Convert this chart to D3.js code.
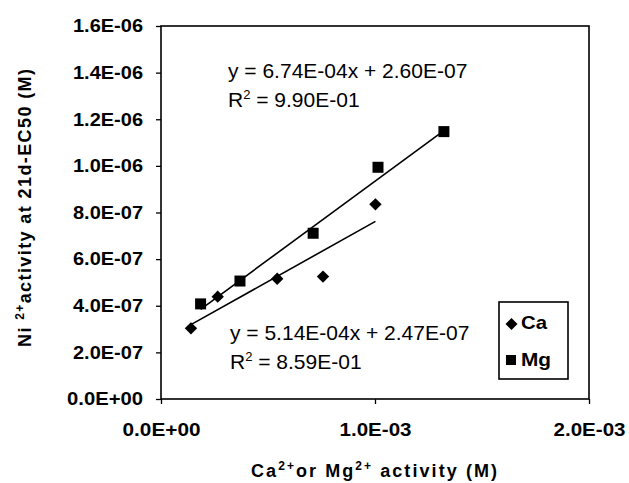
<!DOCTYPE html>
<html><head><meta charset="utf-8">
<script src="https://cdn.jsdelivr.net/npm/d3@7"></script>
<style>
html,body{margin:0;padding:0;background:#fff;}
svg{display:block;font-family:Arial,"Liberation Sans",sans-serif;}
</style></head>
<body>
<svg id="chart" width="629" height="483"></svg>
<script>
// Data
const caX = [0.140e-3, 0.265e-3, 0.543e-3, 0.757e-3, 1.002e-3];
const caY = [0.303e-6, 0.439e-6, 0.516e-6, 0.525e-6, 0.835e-6];
const mgX = [0.185e-3, 0.369e-3, 0.711e-3, 1.014e-3, 1.322e-3];
const mgY = [0.408e-6, 0.506e-6, 0.711e-6, 0.994e-6, 1.147e-6];
const fitSlope = [5.14e-4, 6.74e-4];      // Ca, Mg
const fitIntercept = [2.47e-7, 2.60e-7];  // Ca, Mg
const eqText = ["y = 5.14E-04x + 2.47E-07", "y = 6.74E-04x + 2.60E-07"];
const r2Text = ["8.59E-01", "9.90E-01"];
const xTicks = [0, 1e-3, 2e-3];
const xTickLabels = ["0.0E+00", "1.0E-03", "2.0E-03"];
const yTicks = [0, 2e-7, 4e-7, 6e-7, 8e-7, 1e-6, 1.2e-6, 1.4e-6, 1.6e-6];
const yTickLabels = ["0.0E+00","2.0E-07","4.0E-07","6.0E-07","8.0E-07","1.0E-06","1.2E-06","1.4E-06","1.6E-06"];
const seriesNames = ["Ca", "Mg"];

const svg = d3.select("#chart");
const FONT = "Arial, 'Liberation Sans', sans-serif";
const L = 161, R = 589, T = 26, B = 399;
const x = d3.scaleLinear().domain([0, 2e-3]).range([L, R]);
const y = d3.scaleLinear().domain([0, 1.6e-6]).range([B, T]);

// frame
svg.append("rect").attr("x", L).attr("y", T).attr("width", R - L).attr("height", B - T)
  .attr("fill", "none").attr("stroke", "#000").attr("stroke-width", 1.6);

// axes
const yAxis = d3.axisLeft(y).tickValues(yTicks).tickSize(5).tickPadding(13)
  .tickFormat((d, i) => yTickLabels[i]);
const gy = svg.append("g").attr("transform", `translate(${L},0)`).call(yAxis);
gy.select(".domain").remove();
gy.selectAll("line").attr("stroke", "#000").attr("stroke-width", 1.3);
gy.selectAll("text").attr("font-size", 18).attr("font-weight", "bold")
  .attr("font-family", FONT).attr("fill", "#000")
  .attr("textLength", (d, i) => yTickLabels[i].includes("+") ? 76 : 70)
  .attr("lengthAdjust", "spacingAndGlyphs");

const xAxis = d3.axisBottom(x).tickValues(xTicks).tickSize(5).tickPadding(19)
  .tickFormat((d, i) => xTickLabels[i]);
const gx = svg.append("g").attr("transform", `translate(0,${B})`).call(xAxis);
gx.select(".domain").remove();
gx.selectAll("line").attr("stroke", "#000").attr("stroke-width", 1.3);
gx.selectAll("text").attr("font-size", 18).attr("font-weight", "bold")
  .attr("font-family", FONT).attr("fill", "#000")
  .attr("textLength", (d, i) => xTickLabels[i].includes("+") ? 78 : 72)
  .attr("lengthAdjust", "spacingAndGlyphs");

// trend lines
const seriesX = [caX, mgX];
seriesX.forEach((xs, i) => {
  const x0 = d3.min(xs), x1 = d3.max(xs);
  svg.append("line")
    .attr("x1", x(x0)).attr("y1", y(fitSlope[i] * x0 + fitIntercept[i]))
    .attr("x2", x(x1)).attr("y2", y(fitSlope[i] * x1 + fitIntercept[i]))
    .attr("stroke", "#000").attr("stroke-width", 1.6);
});

// markers
function diamondPath(s) { return `M0,${-s}L${s},0L0,${s}L${-s},0Z`; }
svg.append("g").selectAll("path").data(d3.range(caX.length)).join("path")
  .attr("transform", i => `translate(${x(caX[i])},${y(caY[i])})`)
  .attr("d", diamondPath(6.2)).attr("fill", "#000");
svg.append("g").selectAll("rect").data(d3.range(mgX.length)).join("rect")
  .attr("x", i => x(mgX[i]) - 5.5).attr("y", i => y(mgY[i]) - 5.5)
  .attr("width", 11).attr("height", 11).attr("fill", "#000");

// equations
function eq(i, xPos, y1, y2) {
  svg.append("text").attr("x", xPos).attr("y", y1).attr("font-size", 21).attr("fill", "#000").text(eqText[i]);
  const t = svg.append("text").attr("x", xPos).attr("y", y2).attr("font-size", 21).attr("fill", "#000");
  t.append("tspan").text("R");
  t.append("tspan").attr("font-size", 13).attr("dy", -8).text("2");
  t.append("tspan").attr("dy", 8).text(" = " + r2Text[i]);
}
eq(1, 228, 78, 107);
eq(0, 230, 340, 369);

// legend
svg.append("rect").attr("x", 499).attr("y", 302).attr("width", 69).attr("height", 77)
  .attr("fill", "#fff").attr("stroke", "#000").attr("stroke-width", 1.6);
svg.append("path").attr("transform", "translate(511.5,324)").attr("d", diamondPath(6)).attr("fill", "#000");
svg.append("rect").attr("x", 506).attr("y", 355).attr("width", 10).attr("height", 10).attr("fill", "#000");
svg.append("text").attr("x", 521).attr("y", 329).attr("font-size", 19).attr("font-weight", "bold")
  .attr("textLength", 26).attr("lengthAdjust", "spacingAndGlyphs").text(seriesNames[0]);
svg.append("text").attr("x", 521).attr("y", 366).attr("font-size", 19).attr("font-weight", "bold")
  .attr("textLength", 30).attr("lengthAdjust", "spacingAndGlyphs").text(seriesNames[1]);

// axis titles
const xt = svg.append("text").attr("x", 374).attr("y", 477).attr("text-anchor", "middle")
  .attr("font-size", 18).attr("font-weight", "bold")
  .attr("textLength", 246).attr("lengthAdjust", "spacing");
xt.append("tspan").text("Ca");
xt.append("tspan").attr("font-size", 12).attr("dy", -7).text("2+");
xt.append("tspan").attr("dy", 7).text("or Mg");
xt.append("tspan").attr("font-size", 12).attr("dy", -7).text("2+");
xt.append("tspan").attr("dy", 7).text(" activity (M)");

const yt = svg.append("text").attr("transform", "translate(31,208) rotate(-90)")
  .attr("text-anchor", "middle").attr("font-size", 18).attr("font-weight", "bold")
  .attr("textLength", 278).attr("lengthAdjust", "spacing");
yt.append("tspan").text("Ni ");
yt.append("tspan").attr("font-size", 12).attr("dy", -7).text("2+");
yt.append("tspan").attr("dy", 7).text("activity at 21d-EC50 (M)");
</script>
</body></html>
